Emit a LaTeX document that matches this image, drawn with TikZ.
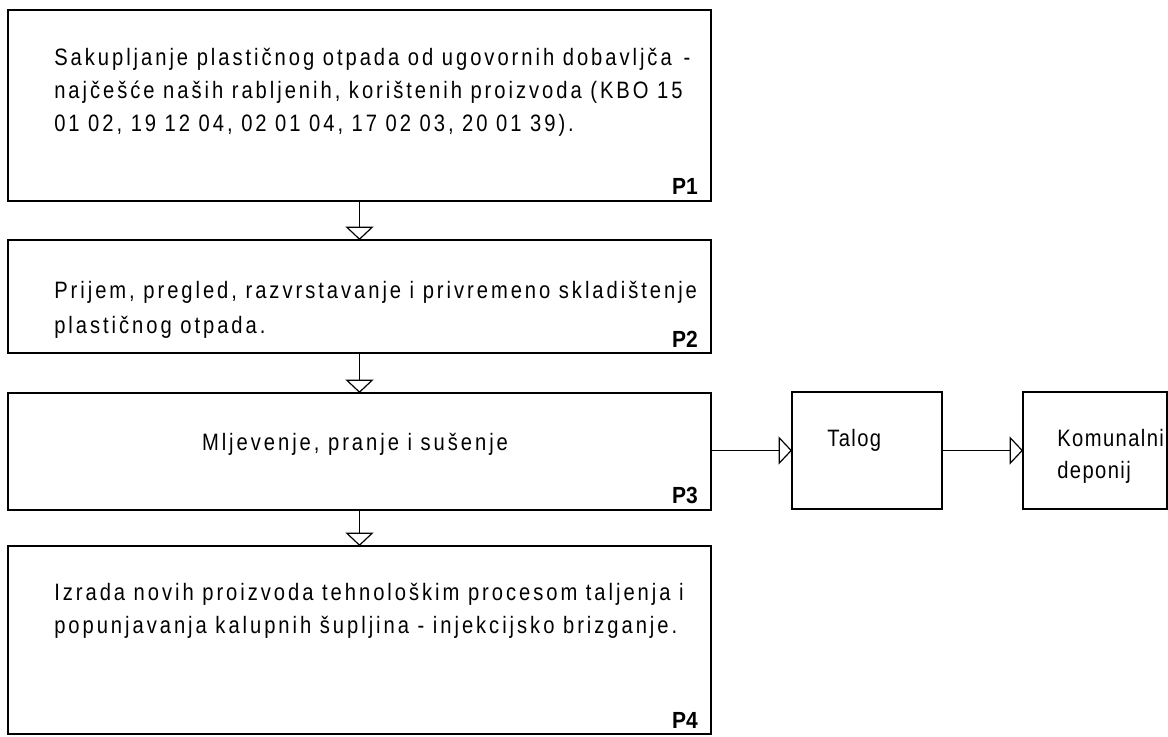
\documentclass[tikz,border=0pt]{standalone}
\usepackage{fontspec}
\setmainfont{Liberation Sans}
\newfontfamily\cadfont{Liberation Sans}[FakeStretch=0.85, LetterSpace=12.5]
\newfontfamily\cadfontb{Liberation Sans}[FakeStretch=0.85, LetterSpace=6]
\newfontfamily\lblfont{Liberation Sans}[FakeStretch=0.9]
\usetikzlibrary{arrows.meta}
\begin{document}
\begin{tikzpicture}[x=0.75pt,y=-0.75pt,
  box/.style={draw, line width=1.3pt, rectangle, inner sep=0pt, outer sep=0pt},
  sbox/.style={draw, line width=0.8pt, rectangle, inner sep=0pt, outer sep=0pt},
  txt/.style={anchor=base west, inner sep=0pt, font=\cadfont\fontsize{17.8}{20}\selectfont},
  stxt/.style={anchor=base west, inner sep=0pt, font=\cadfontb\fontsize{17.8}{20}\selectfont},
  ctxt/.style={anchor=base, inner sep=0pt, font=\cadfont\fontsize{17.8}{20}\selectfont},
  lbl/.style={anchor=base east, inner sep=0pt, font=\lblfont\bfseries\fontsize{17.5}{20}\selectfont},
  flow/.style={draw, line width=0.9pt, -{Triangle[open, length=10pt, width=21pt, line width=0.9pt]}}]
\useasboundingbox (0,0) rectangle (1168,736);
% main process boxes
\node[box, minimum width=527.25pt, minimum height=143.25pt] (p1) at (359.5,105.5) {};
\node[box, minimum width=527.25pt, minimum height=84.75pt] (p2) at (359.5,296.5) {};
\node[box, minimum width=527.25pt, minimum height=87.75pt] (p3) at (359.5,451.5) {};
\node[box, minimum width=527.25pt, minimum height=141pt] (p4) at (359.5,640) {};
% side boxes
\node[sbox, minimum width=112.5pt, minimum height=87.75pt] (talog) at (867,450.5) {};
\node[sbox, minimum width=108pt, minimum height=87.75pt] (kom) at (1095,450.5) {};
% texts
\node[txt] (t1a) at (54,65) {Sakupljanje plastičnog otpada od ugovornih dobavljča\hspace{0.5em}-};
\node[txt] (t1b) at (54,98) {najčešće naših rabljenih, korištenih proizvoda (KBO 15};
\node[txt] (t1c) at (54,131) {01 02, 19 12 04, 02 01 04, 17 02 03, 20 01 39).};
\node[lbl] (l1) at (698,194) {P1};
\node[txt] (t2a) at (54,298) {Prijem, pregled, razvrstavanje i privremeno skladištenje};
\node[txt] (t2b) at (54,333) {plastičnog otpada.};
\node[lbl] (l2) at (698,347) {P2};
\node[ctxt] (t3) at (355,450) {Mljevenje, pranje i sušenje};
\node[lbl] (l3) at (698,503) {P3};
\node[txt] (t4a) at (54,600) {Izrada novih proizvoda tehnološkim procesom taljenja i};
\node[txt] (t4b) at (54,633) {popunjavanja kalupnih šupljina - injekcijsko brizganje.};
\node[lbl] (l4) at (698,728) {P4};
\node[stxt] (tt) at (827,446) {Talog};
\node[stxt] (tk1) at (1057,446) {Komunalni};
\node[stxt] (tk2) at (1057,478) {deponij};
% connectors
\draw[flow] (p1) -- (p2);
\draw[flow] (p2) -- (p3);
\draw[flow] (p3) -- (p4);
\draw[flow] (p3.east |- talog.west) -- (talog.west);
\draw[flow] (talog) -- (kom);
\end{tikzpicture}
\end{document}
